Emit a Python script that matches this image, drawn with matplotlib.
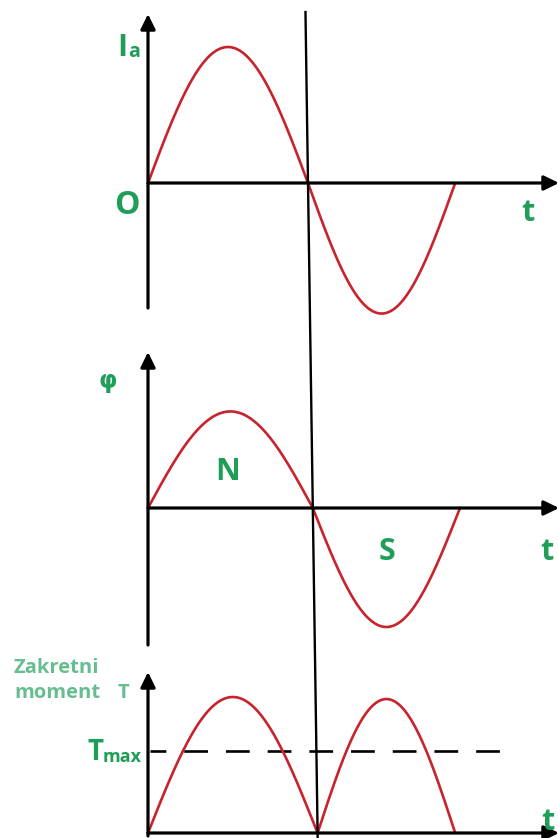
import numpy as np
import matplotlib
matplotlib.use("Agg")
import matplotlib.pyplot as plt

# ---------------- data (time in half-period units, values normalised) -------------
ia_zeros = [0.0, 1.0, 1.92]        # zero crossings of armature current I_a
ia_peaks = [1.0, -0.96]            # peak of each half-wave
phi_zeros = [0.0, 1.03, 1.95]      # zero crossings of flux phi
phi_peaks = [0.71, -0.875]
torque_zeros = [0.0, 1.06, 1.92]   # zero crossings of torque T
torque_peaks = [1.0, 0.985]
tmax_level = 0.6                   # dashed T_max level
tmax_end = 2.25                    # end of dashed line (time units)

# ---------------- layout ----------------
W, H = 558, 838
X0 = 148          # pixel x of the time origin
XS = 160.0        # pixels per time unit
YS = 136.0        # pixels per value unit
panels = [
    dict(oy=183, ytop=14, ybot=308, zeros=ia_zeros, peaks=ia_peaks),
    dict(oy=508, ytop=352, ybot=645, zeros=phi_zeros, peaks=phi_peaks),
    dict(oy=833, ytop=672, ybot=836, zeros=torque_zeros, peaks=torque_peaks),
]
GREEN = "#1f9e58"
LGREEN = "#66bd90"
RED = "#c8232c"
FONT = "Open Sans"

fig = plt.figure(figsize=(W / 100, H / 100), dpi=100)
fig.patch.set_facecolor("white")

axes = []
for p in panels:
    ax = fig.add_axes([0, 0, 1, 1])
    ax.set_xlim(-X0 / XS, (W - X0) / XS)
    ax.set_ylim((p["oy"] - H) / YS, p["oy"] / YS)
    ax.axis("off")
    ax.patch.set_alpha(0)
    axes.append(ax)

    # half-waves
    z, pk = p["zeros"], p["peaks"]
    for i in range(len(pk)):
        t = np.linspace(z[i], z[i + 1], 200)
        ax.plot(t, pk[i] * np.sin(np.pi * (t - z[i]) / (z[i + 1] - z[i])),
                color=RED, lw=1.9, solid_capstyle="round", zorder=3)

    # axes arrows
    ytop = (p["oy"] - p["ytop"]) / YS
    ybot = (p["oy"] - p["ybot"]) / YS
    aprops = dict(arrowstyle="-|>,head_length=0.45,head_width=0.22", lw=2.3,
                  color="black", mutation_scale=20, shrinkA=0, shrinkB=0)
    ax.annotate("", xy=(0, ytop), xytext=(0, ybot), arrowprops=aprops,
                annotation_clip=False, zorder=4)
    ax.annotate("", xy=((W + 1 - X0) / XS, 0), xytext=(0, 0), arrowprops=aprops,
                annotation_clip=False, zorder=4)

# dashed T_max line
axes[2].plot([0.01, tmax_end], [tmax_level, tmax_level], color="black", lw=1.9,
             linestyle=(3, (9.0, 6.8)), zorder=2)

# overlay axes in pixel coordinates for the slanted line and labels
ov = fig.add_axes([0, 0, 1, 1])
ov.set_xlim(0, W)
ov.set_ylim(H, 0)
ov.axis("off")
ov.patch.set_alpha(0)

# slanted line through the middle zero crossings (panel 1 and panel 3)
def to_px(ax, x, y):
    disp = ax.transData.transform((x, y))
    return ov.transData.inverted().transform(disp)

p1 = to_px(axes[0], ia_zeros[1], 0)
p3 = to_px(axes[2], torque_zeros[1], 0)
slope = (p3[0] - p1[0]) / (p3[1] - p1[1])
ytop_line, ybot_line = 12, 838
ov.plot([p1[0] + slope * (ytop_line - p1[1]), p1[0] + slope * (ybot_line - p1[1])],
        [ytop_line, ybot_line], color="black", lw=1.7, zorder=5)

# labels
kw = dict(color=GREEN, fontfamily=FONT, fontweight="bold")
ov.text(117, 56, "I", fontsize=22, ha="left", va="baseline", **kw)
ov.text(128, 57, "a", fontsize=14, ha="left", va="baseline", **kw)
ov.text(127, 214, "O", fontsize=23, ha="center", va="baseline", **kw)
ov.text(528, 221, "t", fontsize=22, ha="center", va="baseline", **kw)
ov.text(108, 388, "φ", fontsize=17, ha="center", va="baseline",
        color=GREEN, fontfamily=["DejaVu Sans"], fontweight="bold")
ov.text(228, 480, "N", fontsize=22, ha="center", va="baseline", **kw)
ov.text(387, 560, "S", fontsize=22, ha="center", va="baseline", **kw)
ov.text(547, 560, "t", fontsize=22, ha="center", va="baseline", **kw)
ov.text(548, 830, "t", fontsize=22, ha="center", va="baseline", **kw)
kl = dict(color=LGREEN, fontfamily=FONT, fontweight="bold")
ov.text(14, 673, "Zakretni", fontsize=14.5, ha="left", va="baseline", **kl)
ov.text(14, 698, "moment", fontsize=14.5, ha="left", va="baseline", **kl)
ov.text(118, 698, "T", fontsize=14.5, ha="left", va="baseline", **kl)
ov.text(88, 760, "T", fontsize=20, ha="left", va="baseline", **kw)
ov.text(103, 762, "max", fontsize=13, ha="left", va="baseline", **kw)

fig.savefig("out.png", dpi=100)
